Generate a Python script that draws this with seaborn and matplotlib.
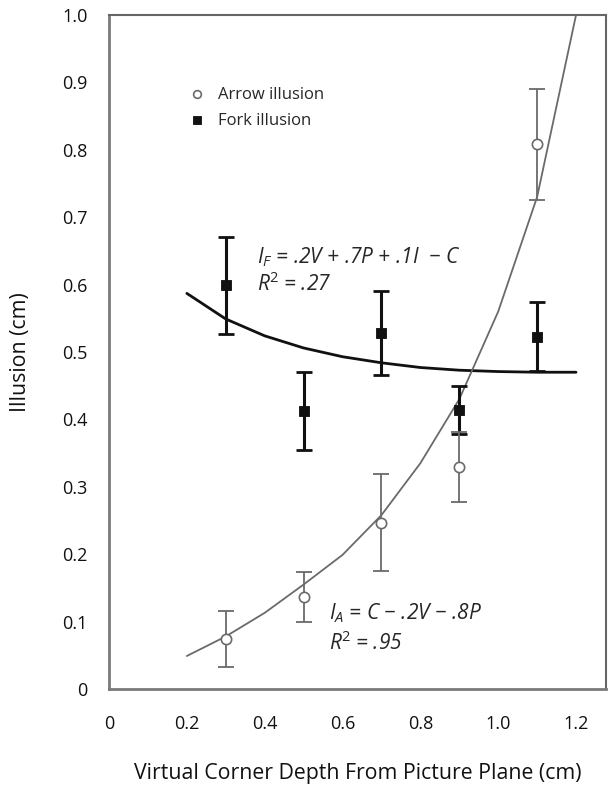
import numpy as np
import pandas as pd
import seaborn as sns
import matplotlib.pyplot as plt
from matplotlib.ticker import MultipleLocator

# measured means and error bars
depth = [0.3, 0.5, 0.7, 0.9, 1.1]
arrow_mean = [0.074, 0.137, 0.247, 0.330, 0.808]
arrow_err = [0.041, 0.037, 0.072, 0.052, 0.082]
fork_mean = [0.599, 0.412, 0.528, 0.414, 0.523]
fork_err = [0.072, 0.058, 0.062, 0.035, 0.051]

# fitted curves
fit_x = [0.2, 0.3, 0.4, 0.5, 0.6, 0.7, 0.8, 0.9, 1.0, 1.1, 1.2]
arrow_fit = [0.049, 0.078, 0.113, 0.155, 0.199, 0.258, 0.335, 0.43, 0.56, 0.73, 1.0]
fork_fit = [0.587, 0.549, 0.524, 0.506, 0.493, 0.484, 0.477, 0.473, 0.471, 0.470, 0.470]

sns.set_style("white")
plt.rcParams['font.family'] = ['Open Sans', 'DejaVu Sans']
plt.rcParams['mathtext.fontset'] = 'custom'
plt.rcParams['mathtext.rm'] = 'Open Sans'
plt.rcParams['mathtext.it'] = 'Open Sans:italic'

fig = plt.figure(figsize=(6.08, 7.86), dpi=100)
ax = fig.add_axes([0.1793, 0.1234, 0.8174, 0.8575])

fits = pd.DataFrame({"x": fit_x, "arrow": arrow_fit, "fork": fork_fit})
sns.lineplot(data=fits, x="x", y="fork", ax=ax, color="#111111", lw=2.0)
sns.lineplot(data=fits, x="x", y="arrow", ax=ax, color="#6a6a6a", lw=1.3)

ax.errorbar(depth, fork_mean, yerr=fork_err, fmt="none", ecolor="#111111",
            elinewidth=2.2, capsize=5.5, capthick=2.0, zorder=3)
ax.errorbar(depth, arrow_mean, yerr=arrow_err, fmt="none", ecolor="#6a6a6a",
            elinewidth=1.3, capsize=5.5, capthick=1.3, zorder=3)

pts = pd.DataFrame({"x": depth * 2, "y": arrow_mean + fork_mean,
                    "kind": ["Arrow illusion"] * 5 + ["Fork illusion"] * 5})
sns.scatterplot(data=pts[pts.kind == "Arrow illusion"], x="x", y="y", ax=ax,
                marker="o", s=55, facecolor="white", edgecolor="#6a6a6a",
                linewidth=1.2, zorder=4, label="Arrow illusion")
sns.scatterplot(data=pts[pts.kind == "Fork illusion"], x="x", y="y", ax=ax,
                marker="s", s=60, color="#111111", edgecolor="#111111",
                zorder=4, label="Fork illusion")

ax.legend(loc="upper left", bbox_to_anchor=(0.126, 0.906), frameon=False,
          fontsize=12, handletextpad=0.3, labelspacing=0.6, borderpad=0,
          markerscale=0.75)

ax.text(0.38, 0.64, r"$I_F$ = .2V + .7P + .1I  − C", style="italic",
        fontsize=15, va="center")
ax.text(0.38, 0.60, r"R$^2$ = .27", style="italic", fontsize=15, va="center")
ax.text(0.565, 0.113, r"$I_A$ = C − .2V − .8P", style="italic",
        fontsize=15, va="center")
ax.text(0.565, 0.068, r"R$^2$ = .95", style="italic", fontsize=15, va="center")

ax.set_xlim(0, 1.277)
ax.set_ylim(0, 1.0)
ax.set_xticks([0, 0.2, 0.4, 0.6, 0.8, 1.0, 1.2])
ax.set_xticklabels(["0", "0.2", "0.4", "0.6", "0.8", "1.0", "1.2"])
ax.xaxis.set_minor_locator(MultipleLocator(0.1))
ax.set_yticks(np.arange(0, 1.01, 0.1))
ax.set_yticklabels(["0"] + [f"{v:.1f}" for v in np.arange(0.1, 1.01, 0.1)])
ax.yaxis.set_minor_locator(MultipleLocator(0.01))

ax.tick_params(axis="both", which="major", direction="inout", length=13, width=1,
               color="#b0b0b0", labelsize=13, labelcolor="#111111")
ax.tick_params(axis="x", which="major", pad=12)
ax.tick_params(axis="y", which="major", pad=9)
ax.tick_params(axis="x", which="minor", direction="out", length=6, width=1, color="#b0b0b0")
ax.tick_params(axis="y", which="minor", direction="out", length=5, width=1, color="#c4c4c4")

for side in ["left", "bottom"]:
    ax.spines[side].set_color("#7a7a7a")
    ax.spines[side].set_linewidth(2.0)
for side in ["top", "right"]:
    ax.spines[side].set_color("#666666")
    ax.spines[side].set_linewidth(1.5)

ax.set_xlabel("Virtual Corner Depth From Picture Plane (cm)", fontsize=15.3,
              labelpad=22, color="#111111")
ax.set_ylabel("Illusion (cm)", fontsize=15.3, labelpad=22, color="#111111")

fig.savefig("out.png", dpi=100)
